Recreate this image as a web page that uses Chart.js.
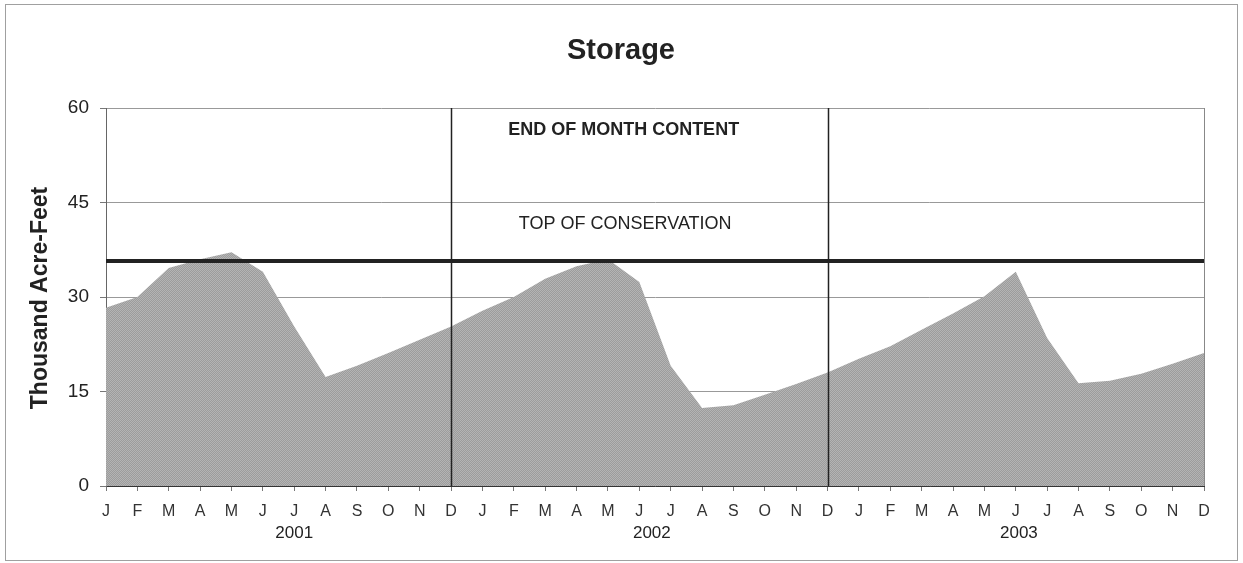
<!DOCTYPE html>
<html>
<head>
<meta charset="utf-8">
<script src="https://cdn.jsdelivr.net/npm/chart.js@4.4.1/dist/chart.umd.min.js"></script>
<style>
  html, body { margin: 0; padding: 0; background: #fff; }
  #wrap { width: 1243px; height: 563px; position: relative; }
</style>
</head>
<body>
<div id="wrap"><canvas id="storageChart" width="1243" height="563"></canvas></div>
<script>
// month letters, three years
const months = ['J','F','M','A','M','J','J','A','S','O','N','D'];
const years = ['2001', '2002', '2003'];
const monthLabels = [].concat(months, months, months);

// end of month content, thousand acre-feet
const storage2001 = [28.3, 30.0, 34.6, 36.0, 37.1, 34.0, 25.3, 17.3, 19.1, 21.1, 23.2, 25.3];
const storage2002 = [27.8, 30.0, 32.9, 34.9, 36.0, 32.4, 19.1, 12.4, 12.8, 14.5, 16.2, 18.0];
const storage2003 = [20.2, 22.2, 24.8, 27.4, 30.1, 34.0, 23.5, 16.3, 16.7, 17.8, 19.4, 21.1];
const storage = [].concat(storage2001, storage2002, storage2003);

const topOfConservation = 35.7;
const yTicks = [0, 15, 30, 45, 60];

const FONT = '"Liberation Sans", Arial, sans-serif';

// stippled grey fill like the original print
function makePattern() {
    const c = document.createElement('canvas');
    c.width = 2; c.height = 2;
    const g = c.getContext('2d');
    g.fillStyle = '#9c9c9c';
    g.fillRect(0, 0, 2, 2);
    g.fillStyle = '#b4b4b4';
    g.fillRect(0, 0, 1, 1);
    g.fillRect(1, 1, 1, 1);
    return g.createPattern(c, 'repeat');
}

const decorations = {
    id: 'decorations',
    beforeDraw(chart) {
        const ctx = chart.ctx;
        ctx.save();
        ctx.fillStyle = '#fff';
        ctx.fillRect(0, 0, chart.width, chart.height);
        ctx.strokeStyle = '#a0a0a0';
        ctx.lineWidth = 1;
        ctx.strokeRect(5.5, 4.5, 1232, 556);
        ctx.restore();
    },
    afterDatasetsDraw(chart) {
        const ctx = chart.ctx;
        const x = chart.scales.x;
        const area = chart.chartArea;
        ctx.save();
        // year separators
        ctx.strokeStyle = '#222';
        ctx.lineWidth = 1.5;
        [11, 23].forEach(i => {
            const px = Math.round(x.getPixelForValue(i)) + 0.5;
            ctx.beginPath();
            ctx.moveTo(px, area.top);
            ctx.lineTo(px, area.bottom);
            ctx.stroke();
        });
        // right border of plot
        ctx.strokeStyle = '#888';
        ctx.lineWidth = 1;
        const rx = Math.round(area.right) + 0.5;
        ctx.beginPath();
        ctx.moveTo(rx, area.top);
        ctx.lineTo(rx, area.bottom);
        ctx.stroke();
        ctx.restore();
    },
    afterDraw(chart) {
        const ctx = chart.ctx;
        const x = chart.scales.x;
        const y = chart.scales.y;
        ctx.save();
        ctx.fillStyle = '#222';
        ctx.textAlign = 'center';
        ctx.textBaseline = 'middle';

        ctx.font = 'bold 29px ' + FONT;
        ctx.fillText('Storage', 621, 51);

        ctx.font = 'bold 18px ' + FONT;
        ctx.fillText('END OF MONTH CONTENT', x.getPixelForValue(16.5), y.getPixelForValue(56.5));
        ctx.font = '18px ' + FONT;
        ctx.fillText('TOP OF CONSERVATION', x.getPixelForValue(16.55), y.getPixelForValue(41.6));

        ctx.font = '17px ' + FONT;
        const yearPos = [6, 17.4, 29.1];
        years.forEach((yr, i) => {
            ctx.fillText(yr, x.getPixelForValue(yearPos[i]), 533);
        });

        ctx.translate(41, 298);
        ctx.rotate(-Math.PI / 2);
        ctx.font = 'bold 23px ' + FONT;
        ctx.fillText('Thousand Acre-Feet', 0, 0);
        ctx.restore();
    }
};

const ctx = document.getElementById('storageChart').getContext('2d');
new Chart(ctx, {
    type: 'line',
    data: {
        labels: monthLabels,
        datasets: [{
            label: 'Storage',
            data: storage,
            backgroundColor: makePattern(),
            borderColor: 'rgba(0,0,0,0)',
            borderWidth: 0,
            fill: 'origin',
            pointRadius: 0,
            tension: 0,
            order: 2
        }, {
            label: 'Top of Conservation',
            data: monthLabels.map(() => topOfConservation),
            borderColor: '#222',
            borderWidth: 4,
            fill: false,
            pointRadius: 0,
            order: 1
        }]
    },
    options: {
        responsive: false,
        animation: false,
        events: [],
        layout: { padding: { top: 108, right: 39, bottom: 0, left: 0 } },
        plugins: {
            legend: { display: false },
            title: { display: false },
            tooltip: { enabled: false }
        },
        scales: {
            x: {
                offset: false,
                grid: {
                    drawOnChartArea: false,
                    drawTicks: true,
                    tickLength: 5,
                    tickColor: '#777'
                },
                border: { display: true, color: '#333', width: 1 },
                ticks: {
                    autoSkip: false,
                    maxRotation: 0,
                    padding: 11,
                    color: '#333',
                    font: { family: FONT, size: 16 }
                },
                afterFit(scale) {
                    scale.height = 77;
                    scale.paddingLeft = 0;
                    scale.paddingRight = 0;
                }
            },
            y: {
                min: 0,
                max: 60,
                afterBuildTicks(scale) {
                    scale.ticks = yTicks.map(v => ({ value: v }));
                },
                grid: {
                    color: '#999',
                    lineWidth: 1,
                    tickLength: 6,
                    tickColor: '#777'
                },
                border: { display: true, color: '#666', width: 1 },
                ticks: {
                    padding: 11,
                    color: '#222',
                    font: { family: FONT, size: 19 }
                },
                afterFit(scale) {
                    scale.width = 106;
                    scale.paddingTop = 0;
                    scale.paddingBottom = 0;
                }
            }
        }
    },
    plugins: [decorations]
});
</script>
</body>
</html>
